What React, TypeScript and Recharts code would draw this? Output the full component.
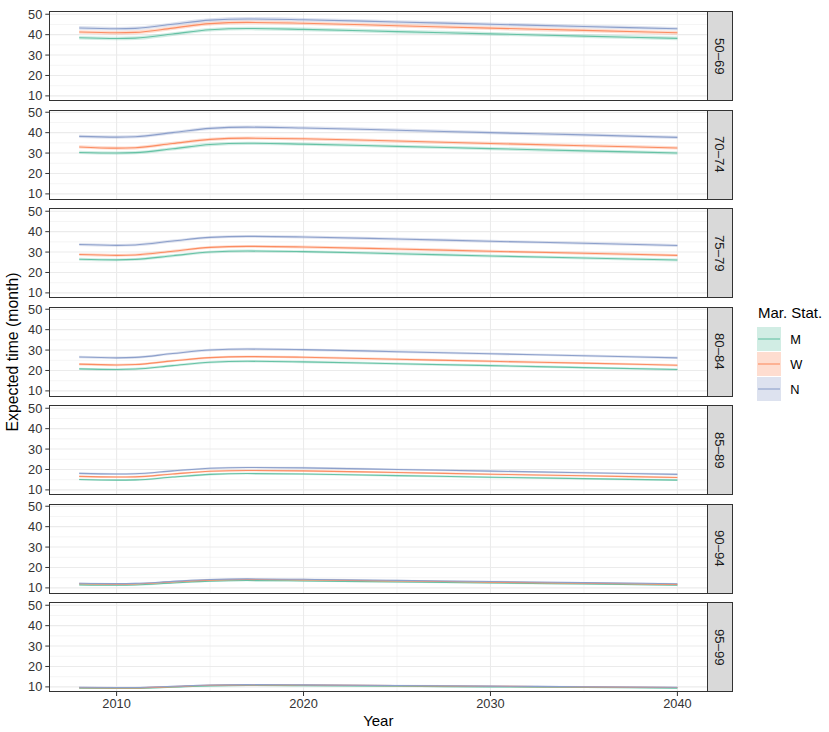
import React from 'react';
import { ComposedChart, Line, Area, XAxis, YAxis, CartesianGrid } from 'recharts';

// ---------- data ----------
const years = [2008, 2010, 2011, 2013, 2015, 2017, 2020, 2025, 2030, 2035, 2040];
const ageGroups = ['50–69', '70–74', '75–79', '80–84', '85–89', '90–94', '95–99'];
const statuses = ['M', 'W', 'N'];
const xTicks = [2010, 2020, 2030, 2040];
const yTicks = [10, 20, 30, 40, 50];

const m_50_69 = [38.5, 38.1, 38.3, 40.3, 42.4, 43.0, 42.6, 41.5, 40.4, 39.3, 38.2];
const w_50_69 = [41.3, 40.9, 41.1, 43.2, 45.4, 46.0, 45.6, 44.4, 43.2, 42.1, 40.9];
const n_50_69 = [43.3, 42.9, 43.1, 45.1, 47.1, 47.7, 47.3, 46.2, 45.1, 44.0, 42.9];

const m_70_74 = [30.3, 30.0, 30.2, 32.1, 34.2, 34.8, 34.4, 33.3, 32.2, 31.1, 30.0];
const w_70_74 = [33.0, 32.4, 32.6, 34.7, 36.7, 37.3, 37.0, 35.9, 34.7, 33.6, 32.5];
const n_70_74 = [38.2, 37.8, 38.0, 40.0, 42.1, 42.7, 42.3, 41.2, 40.0, 38.9, 37.7];

const m_75_79 = [26.5, 26.2, 26.4, 28.2, 30.0, 30.5, 30.2, 29.2, 28.1, 27.1, 26.1];
const w_75_79 = [28.8, 28.4, 28.6, 30.4, 32.3, 32.8, 32.5, 31.5, 30.4, 29.4, 28.4];
const n_75_79 = [33.7, 33.3, 33.5, 35.4, 37.2, 37.7, 37.4, 36.4, 35.3, 34.3, 33.2];

const m_80_84 = [20.8, 20.5, 20.7, 22.4, 24.0, 24.5, 24.2, 23.3, 22.4, 21.4, 20.5];
const w_80_84 = [23.1, 22.7, 22.9, 24.7, 26.3, 26.8, 26.5, 25.5, 24.5, 23.6, 22.6];
const n_80_84 = [26.6, 26.2, 26.4, 28.3, 30.0, 30.5, 30.2, 29.2, 28.2, 27.2, 26.2];

const m_85_89 = [15.1, 14.8, 14.9, 16.3, 17.6, 18.0, 17.8, 17.0, 16.2, 15.5, 14.8];
const w_85_89 = [16.6, 16.3, 16.4, 17.8, 19.1, 19.5, 19.3, 18.5, 17.7, 16.9, 16.1];
const n_85_89 = [18.1, 17.8, 17.9, 19.3, 20.6, 21.0, 20.8, 20.0, 19.2, 18.4, 17.6];

const m_90_94 = [11.5, 11.3, 11.4, 12.4, 13.3, 13.6, 13.4, 12.9, 12.4, 11.9, 11.3];
const w_90_94 = [12.0, 11.8, 11.9, 12.9, 13.8, 14.1, 13.9, 13.4, 12.8, 12.3, 11.7];
const n_90_94 = [12.3, 12.1, 12.2, 13.2, 14.1, 14.4, 14.2, 13.7, 13.1, 12.6, 12.0];

const m_95_99 = [9.4, 9.3, 9.3, 9.9, 10.5, 10.7, 10.6, 10.3, 10.0, 9.7, 9.4];
const w_95_99 = [9.6, 9.5, 9.5, 10.1, 10.8, 11.0, 10.9, 10.6, 10.3, 10.0, 9.7];
const n_95_99 = [9.8, 9.7, 9.7, 10.3, 10.9, 11.1, 11.0, 10.7, 10.4, 10.1, 9.8];

// half-width of the confidence band per panel
const bandHalfWidth = [0.9, 0.8, 0.7, 0.6, 0.5, 0.35, 0.3];

const seriesM = [m_50_69, m_70_74, m_75_79, m_80_84, m_85_89, m_90_94, m_95_99];
const seriesW = [w_50_69, w_70_74, w_75_79, w_80_84, w_85_89, w_90_94, w_95_99];
const seriesN = [n_50_69, n_70_74, n_75_79, n_80_84, n_85_89, n_90_94, n_95_99];

// ---------- styling / layout ----------
const COLORS: Record<string, string> = { M: '#66C2A5', W: '#FC8D62', N: '#8DA0CB' };
const FONT = '"Liberation Sans", Arial, Helvetica, sans-serif';
const PANEL_LEFT = 49.3;
const PANEL_RIGHT = 707.3;
const PANEL_TOP0 = 11.7;
const PANEL_STEP = 98.5;
const PANEL_H = 89;
const PAD = 6;
const STRIP_W = 25;
const XAXIS_H = 30;
const CHART_W = 829;
const X_DOMAIN: [number, number] = [2006.4, 2041.6];
const Y_DOMAIN: [number, number] = [7.5, 51.1];
const BORDER = '#333333';
const TICK_FS = 12.8;
const TICK_COLOR = '#333333';

function Panel({ idx }: { idx: number }) {
  const isLast = idx === ageGroups.length - 1;
  const half = bandHalfWidth[idx];
  const data = years.map((y, i) => {
    const m = seriesM[idx][i];
    const w = seriesW[idx][i];
    const n = seriesN[idx][i];
    return {
      year: y,
      M: m,
      W: w,
      N: n,
      Mr: [m - half, m + half],
      Wr: [w - half, w + half],
      Nr: [n - half, n + half],
    };
  });
  const top = PANEL_TOP0 + idx * PANEL_STEP;
  const tickStyle = { fill: TICK_COLOR, fontSize: TICK_FS, fontFamily: FONT };
  return (
    <>
      <div style={{ position: 'absolute', left: 0, top: top - PAD }}>
        <ComposedChart
          width={CHART_W}
          height={PANEL_H + PAD + (isLast ? XAXIS_H : PAD)}
          data={data}
          margin={{ top: PAD, right: CHART_W - PANEL_RIGHT, bottom: isLast ? 0 : PAD, left: 0 }}
        >
          <CartesianGrid
            horizontalValues={[15, 25, 35, 45]}
            verticalValues={[2015, 2025, 2035]}
            stroke="#EBEBEB"
            strokeWidth={0.55}
          />
          <CartesianGrid
            horizontalValues={yTicks}
            verticalValues={xTicks}
            stroke="#EBEBEB"
            strokeWidth={1.1}
          />
          <XAxis
            type="number"
            dataKey="year"
            domain={X_DOMAIN}
            ticks={xTicks}
            interval={0}
            allowDataOverflow
            hide={!isLast}
            height={XAXIS_H}
            tickSize={4}
            tickMargin={3}
            axisLine={false}
            tickLine={{ stroke: BORDER }}
            tick={tickStyle}
          />
          <YAxis
            type="number"
            domain={Y_DOMAIN}
            ticks={yTicks}
            interval={0}
            allowDataOverflow
            width={PANEL_LEFT}
            tickSize={4}
            tickMargin={3}
            axisLine={false}
            tickLine={{ stroke: BORDER }}
            tick={tickStyle}
          />
          {statuses.map((s) => (
            <Area
              key={s + 'r'}
              dataKey={s + 'r'}
              type="monotone"
              stroke="none"
              fill={COLORS[s]}
              fillOpacity={0.3}
              isAnimationActive={false}
              activeDot={false}
            />
          ))}
          {statuses.map((s) => (
            <Line
              key={s}
              dataKey={s}
              type="monotone"
              stroke={COLORS[s]}
              strokeWidth={1.1}
              dot={false}
              activeDot={false}
              isAnimationActive={false}
            />
          ))}
        </ComposedChart>
      </div>
      <div
        style={{
          position: 'absolute',
          left: PANEL_LEFT - 0.5,
          top: top - 0.5,
          width: PANEL_RIGHT - PANEL_LEFT + 1,
          height: PANEL_H + 1,
          border: `1px solid ${BORDER}`,
          boxSizing: 'border-box',
          pointerEvents: 'none',
        }}
      />
      <div
        style={{
          position: 'absolute',
          left: PANEL_RIGHT - 0.5,
          top: top - 0.5,
          width: STRIP_W + 1,
          height: PANEL_H + 1,
          background: '#D9D9D9',
          border: `1px solid ${BORDER}`,
          boxSizing: 'border-box',
          display: 'flex',
          alignItems: 'center',
          justifyContent: 'center',
        }}
      >
        <span
          style={{
            writingMode: 'vertical-rl',
            fontFamily: FONT,
            fontSize: 13.2,
            color: '#1A1A1A',
            lineHeight: 1,
          }}
        >
          {ageGroups[idx]}
        </span>
      </div>
    </>
  );
}

function LegendKey({ s }: { s: string }) {
  return (
    <svg width={24} height={24} style={{ display: 'block' }}>
      <rect x={0} y={0} width={24} height={24} fill={COLORS[s]} fillOpacity={0.3} />
      <line x1={1} y1={12} x2={23} y2={12} stroke={COLORS[s]} strokeWidth={1.1} />
    </svg>
  );
}

export default function App() {
  return (
    <div
      style={{
        position: 'fixed',
        left: 0,
        top: 0,
        width: 829,
        height: 732,
        background: '#FFFFFF',
        overflow: 'hidden',
        fontFamily: FONT,
      }}
    >
      {ageGroups.map((_, i) => (
        <Panel key={i} idx={i} />
      ))}
      {/* Y axis title */}
      <div
        style={{
          position: 'absolute',
          left: 13,
          top: 352,
          transform: 'translate(-50%, -50%) rotate(-90deg)',
          whiteSpace: 'nowrap',
          fontSize: 15.8,
          color: '#000',
        }}
      >
        Expected time (month)
      </div>
      {/* X axis title */}
      <div
        style={{
          position: 'absolute',
          left: (PANEL_LEFT + PANEL_RIGHT) / 2,
          top: 720,
          transform: 'translate(-50%, -50%)',
          whiteSpace: 'nowrap',
          fontSize: 15,
          color: '#000',
        }}
      >
        Year
      </div>
      {/* Legend */}
      <div
        style={{
          position: 'absolute',
          left: 758,
          top: 311.7,
          transform: 'translateY(-50%)',
          fontSize: 15,
          whiteSpace: 'nowrap',
          color: '#000',
        }}
      >
        Mar. Stat.
      </div>
      {statuses.map((s, i) => (
        <div
          key={s}
          style={{ position: 'absolute', left: 757.3, top: 326.7 + i * 25.2 }}
        >
          <LegendKey s={s} />
          <div
            style={{
              position: 'absolute',
              left: 33,
              top: 12,
              transform: 'translateY(-50%)',
              fontSize: TICK_FS,
              color: '#000',
            }}
          >
            {s}
          </div>
        </div>
      ))}
    </div>
  );
}
